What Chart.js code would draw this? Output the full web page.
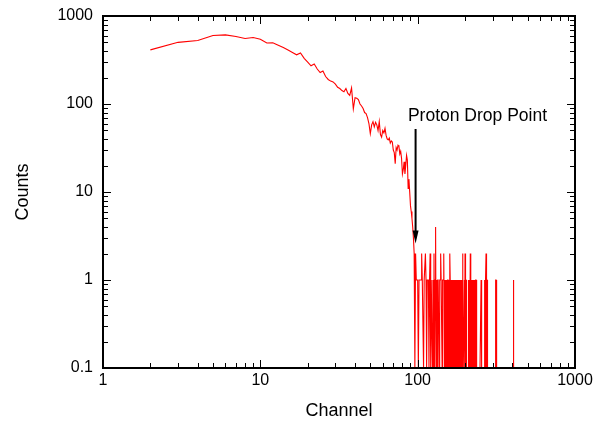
<!DOCTYPE html>
<html>
<head>
<meta charset="utf-8">
<script src="https://cdn.jsdelivr.net/npm/chart.js@4"></script>
<style>
  html, body { margin: 0; padding: 0; background: #fff; }
</style>
</head>
<body>
<canvas id="chart" width="603" height="423"></canvas>
<script>
// counts per channel, channel 2 .. 95 (the smooth part)
const decayStart = 2;
const decayCounts = [
  412, 502, 527, 600, 610, 585, 556, 570, 545, 494,   // 2-11
  497, 465, 438, 410, 385, 362, 380, 330, 300, 272,   // 12-21
  285, 250, 228, 237, 205, 190, 182, 178, 168, 155,   // 22-31
  150, 142, 138, 150, 132, 125, 152, 88, 118, 116,    // 32-41
  112, 100, 95, 89, 80, 78, 70, 60, 46, 58,           // 42-51
  63, 55, 62, 58, 50, 63, 45, 42, 50, 47,             // 52-61
  53, 44, 40, 39, 41, 36, 38, 37, 30, 28,             // 62-71
  21, 32, 30, 34, 33, 27, 29, 24, 16, 18,             // 72-81
  22, 16, 20, 26, 23, 11, 14, 10, 7, 6,               // 82-91
  5, 4, 3, 2                                          // 92-95
];

// counts per channel, channel 96 .. 409 (the sparse tail, 0 = empty)
const tailStart = 96;
const tailCounts = [
  0, 2, 1, 1, 1, 0, 1, 1, 1, 1,   // 96
  2, 1, 1, 0, 1, 1, 2, 1, 0, 1,   // 106
  1, 1, 0, 1, 2, 0, 1, 1, 0, 1,   // 116
  0, 2, 0, 1, 4, 0, 1, 0, 1, 1,   // 126
  1, 0, 1, 1, 2, 1, 1, 0, 1, 1,   // 136
  1, 2, 0, 1, 0, 1, 0, 1, 0, 1,   // 146
  1, 0, 1, 0, 2, 1, 0, 1, 0, 1,   // 156
  0, 1, 0, 1, 1, 0, 1, 0, 1, 1,   // 166
  0, 1, 0, 1, 0, 1, 0, 1, 0, 1,   // 176
  0, 1, 0, 0, 0, 1, 0, 2, 0, 0,   // 186
  0, 0, 1, 0, 2, 0, 1, 1, 0, 0,   // 196
  0, 0, 0, 0, 1, 0, 1, 0, 1, 0,   // 206
  2, 0, 1, 0, 1, 0, 1, 0, 1, 0,   // 216
  1, 0, 1, 0, 1, 0, 1, 0, 1, 1,   // 226
  0, 0, 0, 0, 0, 0, 0, 0, 0, 0,   // 236
  0, 0, 0, 0, 0, 0, 0, 1, 1, 0,   // 246
  0, 0, 0, 0, 0, 0, 0, 0, 0, 0,   // 256
  1, 1, 0, 1, 0, 1, 2, 1, 0, 1,   // 266
  1, 0, 1, 0, 0, 0, 0, 0, 0, 0,   // 276
  0, 0, 0, 0, 0, 0, 0, 0, 0, 0,   // 286
  0, 0, 0, 0, 0, 0, 0, 0, 0, 0,   // 296
  0, 0, 0, 0, 0, 0, 0, 0, 1, 1,   // 306
  0, 0, 0, 0, 0, 0, 0, 0, 0, 0,   // 316
  0, 0, 0, 0, 0, 0, 0, 0, 0, 0,   // 326
  0, 0, 0, 0, 0, 0, 0, 0, 0, 0,   // 336
  0, 0, 0, 0, 0, 0, 0, 0, 0, 0,   // 346
  0, 0, 0, 0, 0, 0, 0, 0, 0, 0,   // 356
  0, 0, 0, 0, 0, 0, 0, 0, 0, 0,   // 366
  0, 0, 0, 0, 0, 0, 0, 0, 0, 0,   // 376
  0, 0, 0, 0, 0, 0, 0, 0, 0, 0,   // 386
  0, 0, 0, 0, 0, 0, 0, 0, 0, 0,   // 396
  0, 0, 1, 0                      // 406-409
];

const xTicks = [1, 10, 100, 1000];
const xTickLabels = ['1', '10', '100', '1000'];
const yTicks = [0.1, 1, 10, 100, 1000];
const yTickLabels = ['0.1', '1', '10', '100', '1000'];

// annotation: text position and arrow, in data units
const noteText = 'Proton Drop Point';
const noteAt = { x: 86.7, y: 64 };
const arrowX = 97;
const arrowFrom = 52;
const arrowTo = 2.6;

const FONT = '"Liberation Sans", Arial, Helvetica, sans-serif';
Chart.defaults.font.family = FONT;
Chart.defaults.color = '#000';

// empty channels sit on the bottom of the log axis
const yFloor = yTicks[0];
const points = [];
decayCounts.forEach((c, i) => points.push({ x: decayStart + i, y: c }));
tailCounts.forEach((c, i) => points.push({ x: tailStart + i, y: c > 0 ? c : yFloor }));

// box with inward major/minor ticks, plus the arrow note
const frameAndNote = {
  id: 'frameAndNote',
  afterDraw(chart) {
    const ctx = chart.ctx;
    const { left, right, top, bottom } = chart.chartArea;
    const xs = chart.scales.x, ys = chart.scales.y;
    ctx.save();
    ctx.strokeStyle = '#000';

    ctx.lineWidth = 1;
    ctx.beginPath();
    for (let d = 1; d < 1000; d *= 10) {
      for (let k = 1; k <= 9; k++) {
        const px = Math.round(xs.getPixelForValue(k * d)) + 0.5;
        const len = k === 1 ? 8 : 5;
        ctx.moveTo(px, bottom); ctx.lineTo(px, bottom - len);
        ctx.moveTo(px, top); ctx.lineTo(px, top + len);
      }
    }
    for (let d = 0.1; d < 999; d *= 10) {
      for (let k = 1; k <= 9; k++) {
        const py = Math.round(ys.getPixelForValue(k * d)) + 0.5;
        const len = k === 1 ? 8 : 5;
        ctx.moveTo(left, py); ctx.lineTo(left + len, py);
        ctx.moveTo(right, py); ctx.lineTo(right - len, py);
      }
    }
    ctx.stroke();

    ctx.lineWidth = 2;
    ctx.strokeRect(left, top, right - left, bottom - top);

    // note
    const ax = xs.getPixelForValue(arrowX);
    const ay0 = ys.getPixelForValue(arrowFrom);
    const ay1 = ys.getPixelForValue(arrowTo);
    ctx.lineWidth = 2;
    ctx.beginPath();
    ctx.moveTo(ax, ay0);
    ctx.lineTo(ax, ay1 - 10);
    ctx.stroke();
    ctx.fillStyle = '#000';
    ctx.beginPath();
    ctx.moveTo(ax - 3, ay1 - 13);
    ctx.lineTo(ax + 3, ay1 - 13);
    ctx.lineTo(ax, ay1);
    ctx.closePath();
    ctx.fill();

    ctx.font = '17.5px ' + FONT;
    ctx.textAlign = 'left';
    ctx.textBaseline = 'alphabetic';
    ctx.fillText(noteText, xs.getPixelForValue(noteAt.x), ys.getPixelForValue(noteAt.y));
    ctx.restore();
  }
};

new Chart(document.getElementById('chart'), {
  type: 'line',
  data: {
    datasets: [{
      data: points,
      borderColor: '#ff0000',
      borderWidth: 1.1,
      pointRadius: 0,
      tension: 0,
      fill: false
    }]
  },
  options: {
    responsive: false,
    animation: false,
    layout: { padding: { left: 0, top: 16, right: 28, bottom: 0 } },
    plugins: { legend: { display: false }, tooltip: { enabled: false } },
    scales: {
      x: {
        type: 'logarithmic',
        min: 1,
        max: 1000,
        afterBuildTicks: s => { s.ticks = xTicks.map(v => ({ value: v })); },
        afterFit: s => { s.height = 55; s.paddingLeft = 0; s.paddingRight = 0; },
        grid: { display: false, drawTicks: false },
        border: { display: false },
        ticks: {
          font: { size: 16 },
          color: '#000',
          padding: 3,
          maxRotation: 0,
          autoSkip: false,
          callback: (v, i) => xTickLabels[i]
        },
        title: {
          display: true,
          text: 'Channel',
          font: { size: 18 },
          color: '#000',
          padding: { top: 0, bottom: 1 }
        }
      },
      y: {
        type: 'logarithmic',
        min: 0.1,
        max: 1000,
        afterBuildTicks: s => { s.ticks = yTicks.map(v => ({ value: v })); },
        afterFit: s => { s.width = 103; s.paddingTop = 0; s.paddingBottom = 0; },
        grid: { display: false, drawTicks: false },
        border: { display: false },
        ticks: {
          font: { size: 16 },
          color: '#000',
          padding: 10,
          autoSkip: false,
          callback: (v, i) => yTickLabels[i]
        },
        title: {
          display: true,
          text: 'Counts',
          font: { size: 18 },
          color: '#000',
          padding: { top: 12, bottom: 0 }
        }
      }
    }
  },
  plugins: [frameAndNote]
});
</script>
</body>
</html>
